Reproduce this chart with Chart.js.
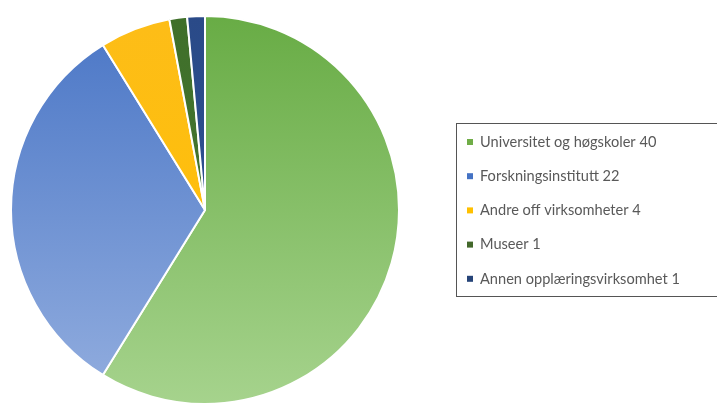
<!DOCTYPE html>
<html>
<head>
<meta charset="utf-8">
<script src="https://cdn.jsdelivr.net/npm/chart.js@4"></script>
<style>
  html, body { margin: 0; padding: 0; background: #fff; overflow: hidden; }
  #wrap { width: 717px; height: 410px; position: relative; }
</style>
</head>
<body>
<div id="wrap"><canvas id="canvas" width="717" height="410"></canvas></div>
<script>
const labels = ['Universitet og høgskoler 40', 'Forskningsinstitutt 22', 'Andre off virksomheter 4', 'Museer 1', 'Annen opplæringsvirksomhet 1'];
const values = [40, 22, 4, 1, 1];
// top / bottom colours of the vertical gradient for each slice
const topColors = ['#68ac45', '#4a76c6', '#fdbd18', '#3f6f2a', '#2a4a88'];
const bottomColors = ['#a6d38d', '#93aedf', '#ffc000', '#4a7a33', '#2f5597'];
const legendColors = ['#70ad47', '#4472c4', '#ffc000', '#43682b', '#264478'];

function sliceFill(ctx) {
  const chart = ctx.chart;
  const area = chart.chartArea;
  if (!area) return topColors[ctx.dataIndex];
  const g = chart.ctx.createLinearGradient(0, area.top, 0, area.bottom);
  g.addColorStop(0, topColors[ctx.dataIndex]);
  g.addColorStop(1, bottomColors[ctx.dataIndex]);
  return g;
}

// legend drawn in a framed box to the right of the pie
const boxLegend = {
  id: 'boxLegend',
  afterDraw(chart) {
    const c = chart.ctx;
    c.save();
    c.strokeStyle = '#555';
    c.lineWidth = 1;
    c.strokeRect(456.5, 123.5, 270, 173);
    c.font = '14.6px Lato, "Liberation Sans", sans-serif';
    c.textBaseline = 'middle';
    labels.forEach((lab, i) => {
      const y = 142 + i * 34.2;
      c.fillStyle = legendColors[i];
      c.fillRect(467, y - 3, 6, 6);
      c.fillStyle = '#595959';
      c.fillText(lab, 480, y);
    });
    c.restore();
  }
};

new Chart(document.getElementById('canvas'), {
  type: 'pie',
  data: {
    labels: labels,
    datasets: [{
      data: values,
      backgroundColor: sliceFill,
      borderColor: '#ffffff',
      borderWidth: 2
    }]
  },
  options: {
    responsive: false,
    animation: false,
    layout: { padding: { left: 10, right: 317, top: 15, bottom: 5 } },
    plugins: {
      legend: { display: false },
      tooltip: { enabled: false }
    }
  },
  plugins: [boxLegend]
});
</script>
</body>
</html>
